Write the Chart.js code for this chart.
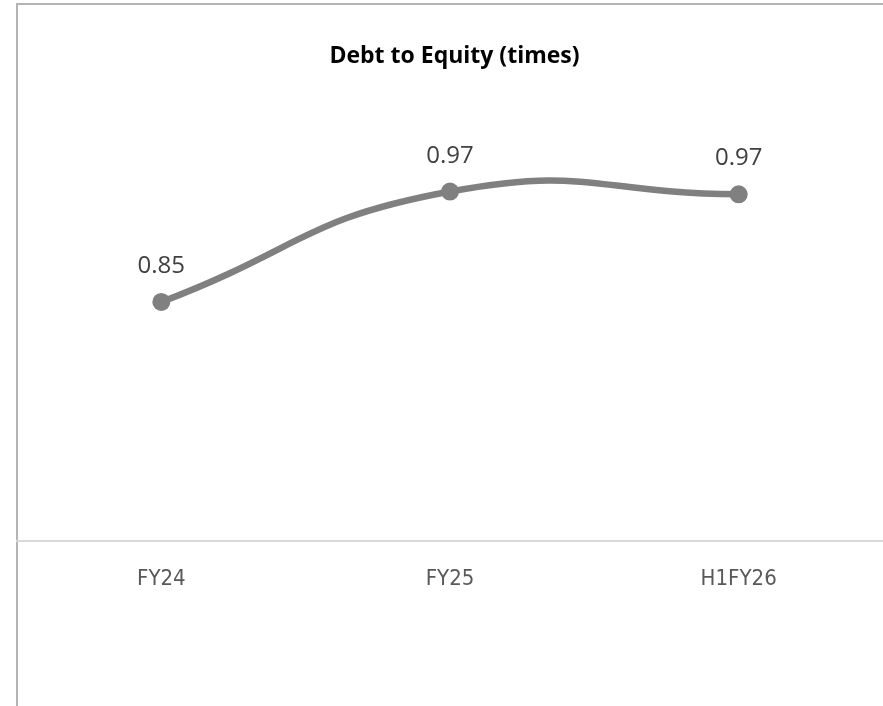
<!DOCTYPE html>
<html>
<head>
<meta charset="utf-8">
<script src="https://cdn.jsdelivr.net/npm/chart.js@4"></script>
<style>
  html, body { margin: 0; padding: 0; background: #fff; overflow: hidden; }
  #wrap { position: relative; width: 883px; height: 706px; overflow: hidden; }
  #frame {
    position: absolute; left: 16px; top: 3px; width: 900px; height: 760px;
    border-left: 2px solid #b4b4b4; border-top: 2px solid #b4b4b4;
  }
  #chart { position: absolute; left: 0; top: 0; }
</style>
</head>
<body>
<div id="wrap">
  <div id="frame"></div>
  <canvas id="chart" width="892" height="706"></canvas>
</div>
<script>
// data
const categories = ["FY24", "FY25", "H1FY26"];
const ratioValues = [0.85, 0.968, 0.965];
const ratioLabels = ["0.85", "0.97", "0.97"];
const chartTitle = "Debt to Equity (times)";

// value labels above each point
const valueLabels = {
    id: "valueLabels",
    afterDatasetsDraw(chart) {
        const ctx = chart.ctx;
        const meta = chart.getDatasetMeta(0);
        ctx.save();
        ctx.font = "24px 'Open Sans'";
        ctx.fillStyle = "#404040";
        ctx.textAlign = "center";
        ctx.textBaseline = "alphabetic";
        meta.data.forEach((pt, i) => {
            ctx.fillText(ratioLabels[i], pt.x, pt.y - 29);
        });
        ctx.restore();
    }
};

const ctx = document.getElementById("chart").getContext("2d");
new Chart(ctx, {
    type: "line",
    data: {
        labels: categories,
        datasets: [{
            label: chartTitle,
            data: ratioValues,
            borderColor: "#808080",
            backgroundColor: "#808080",
            borderWidth: 6.5,
            tension: 0.5,
            pointRadius: 9,
            pointBackgroundColor: "#808080",
            pointBorderWidth: 0,
            fill: false
        }]
    },
    options: {
        responsive: false,
        animation: false,
        layout: { padding: { left: 17, right: 0, top: 0, bottom: 89 } },
        plugins: {
            legend: { display: false },
            tooltip: { enabled: false },
            title: {
                display: true,
                text: chartTitle,
                color: "#000",
                font: { family: "'Open Sans'", size: 23, weight: "bold" },
                padding: { top: 43, bottom: 91 }
            }
        },
        scales: {
            x: {
                offset: true,
                grid: { display: false, drawTicks: false },
                border: { display: true, color: "#d9d9d9", width: 2 },
                ticks: {
                    color: "#595959",
                    padding: 25,
                    font: { family: "'DejaVu Sans Condensed', 'Liberation Sans Narrow', Roboto", size: 22 }
                }
            },
            y: {
                display: false,
                min: 0.595,
                max: 1.0
            }
        }
    },
    plugins: [valueLabels]
});
</script>
</body>
</html>
